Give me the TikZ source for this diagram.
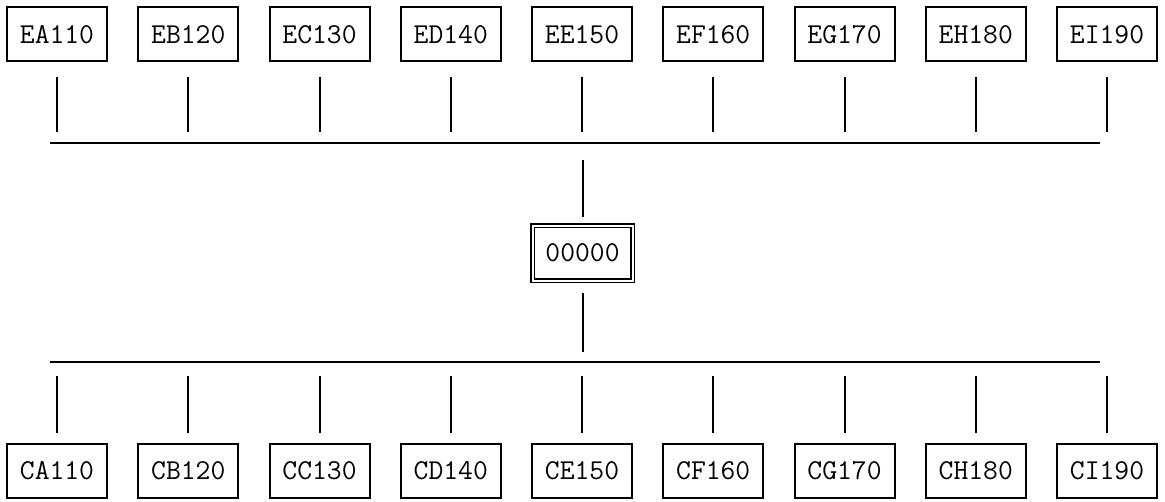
\documentclass[tikz,border=0pt]{standalone}
\usetikzlibrary{positioning}
\tikzset{
  unit box/.style={
    draw,
    line width=1pt,
    minimum width=50pt,
    minimum height=27pt,
    inner sep=0pt,
    font=\ttfamily\fontsize{14.4}{17}\selectfont
  },
  hub box/.style={
    unit box,
    line width=0.75pt,
    double,
    double distance=1pt,
    minimum width=50pt,
    minimum height=27.5pt
  },
  bus line/.style={
    line width=1pt
  },
  drop line/.style={
    line width=1pt
  }
}

\begin{document}
\begin{tikzpicture}[x=0.5pt,y=-0.5pt]

    \useasboundingbox (0,0) rectangle (1165,502);

    % ---------- buses ----------
    \coordinate (busEL) at (50,143);
    \coordinate (busER) at (1100,143);
    \coordinate (busCL) at (50,362);
    \coordinate (busCR) at (1100,362);
    \draw[bus line] (busEL) -- (busER);
    \draw[bus line] (busCL) -- (busCR);

    % ---------- hub ----------
    \node[hub box] (hub) at (582.5,253) {00000};
    \draw[drop line, shorten <=8.5pt, shorten >=4pt]
      (hub.north |- busEL) -- (hub.north);
    \draw[drop line, shorten <=6pt, shorten >=5pt]
      (hub.south) -- (hub.south |- busCL);

    % ---------- upper units ----------
    \foreach \name [count=\i from 0] in {EA110,EB120,EC130,ED140,EE150,EF160,EG170,EH180,EI190}{
      \node[unit box] (\name) at ({57+131.25*\i},34.5) {\name};
      \draw[drop line, shorten <=7.5pt, shorten >=5.5pt]
        (\name.south) -- (\name.south |- busEL);
    }

    % ---------- lower units ----------
    \foreach \name [count=\i from 0] in {CA110,CB120,CC130,CD140,CE150,CF160,CG170,CH180,CI190}{
      \node[unit box] (\name) at ({57+131.25*\i},471) {\name};
      \draw[drop line, shorten <=7pt, shorten >=5pt]
        (\name.north |- busCL) -- (\name.north);
    }

\end{tikzpicture}
\end{document}
